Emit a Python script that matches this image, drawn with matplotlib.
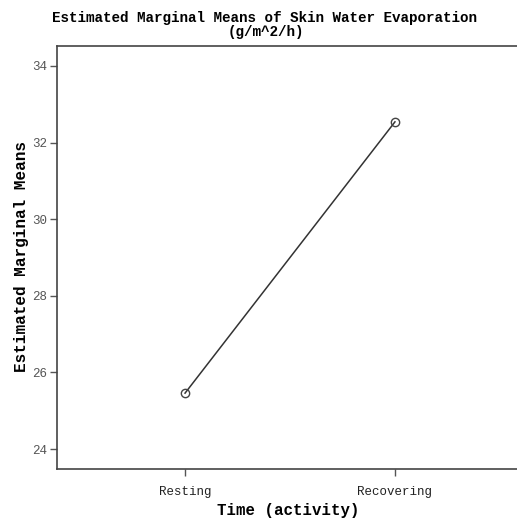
import matplotlib
matplotlib.use("Agg")
import matplotlib.pyplot as plt

categories = ["Resting", "Recovering"]
means = [25.46, 32.54]
yticks = [24, 26, 28, 30, 32, 34]

fig = plt.figure(figsize=(5.17, 5.22), dpi=100)
W, H = 517, 522
left, right, top, bottom = 57, 523, 46, 469
ax = fig.add_axes([left / W, 1 - bottom / H, (right - left) / W, (bottom - top) / H])

x = list(range(len(categories)))
ax.plot(x, means, color="#333333", linewidth=1.1, marker="o", markersize=6,
        markerfacecolor="none", markeredgecolor="#444444", markeredgewidth=1.0)

ax.set_xlim(-0.61, 1.61)
ax.set_ylim(23.48, 34.52)
ax.set_xticks(x)
ax.set_xticklabels(categories, family="Liberation Mono", fontsize=9, color="#222222")
ax.set_yticks(yticks)
ax.set_yticklabels([str(v) for v in yticks], family="Liberation Mono", fontsize=9, color="#555555")
ax.tick_params(axis="both", direction="out", length=5, width=1, color="#555555", pad=2)
ax.tick_params(axis="x", pad=7)

for s in ["left", "bottom", "top"]:
    ax.spines[s].set_color("#444444")
    ax.spines[s].set_linewidth(1.2)
ax.spines["right"].set_visible(False)

fig.text(288 / W, 1 - 510 / H, "Time (activity)", ha="center", va="center",
         family="Liberation Mono", fontweight="bold", fontsize=11.3)
fig.text(22 / W, 1 - 257 / H, "Estimated Marginal Means", ha="center", va="center", rotation=90,
         family="Liberation Mono", fontweight="bold", fontsize=11.5)

fig.text(265 / W, 1 - 18 / H, "Estimated Marginal Means of Skin Water Evaporation",
         ha="center", va="center", family="Liberation Mono", fontweight="bold", fontsize=10.3)
fig.text(266 / W, 1 - 32 / H, "(g/m^2/h)",
         ha="center", va="center", family="Liberation Mono", fontweight="bold", fontsize=10.3)

fig.savefig("out.png", dpi=100)
